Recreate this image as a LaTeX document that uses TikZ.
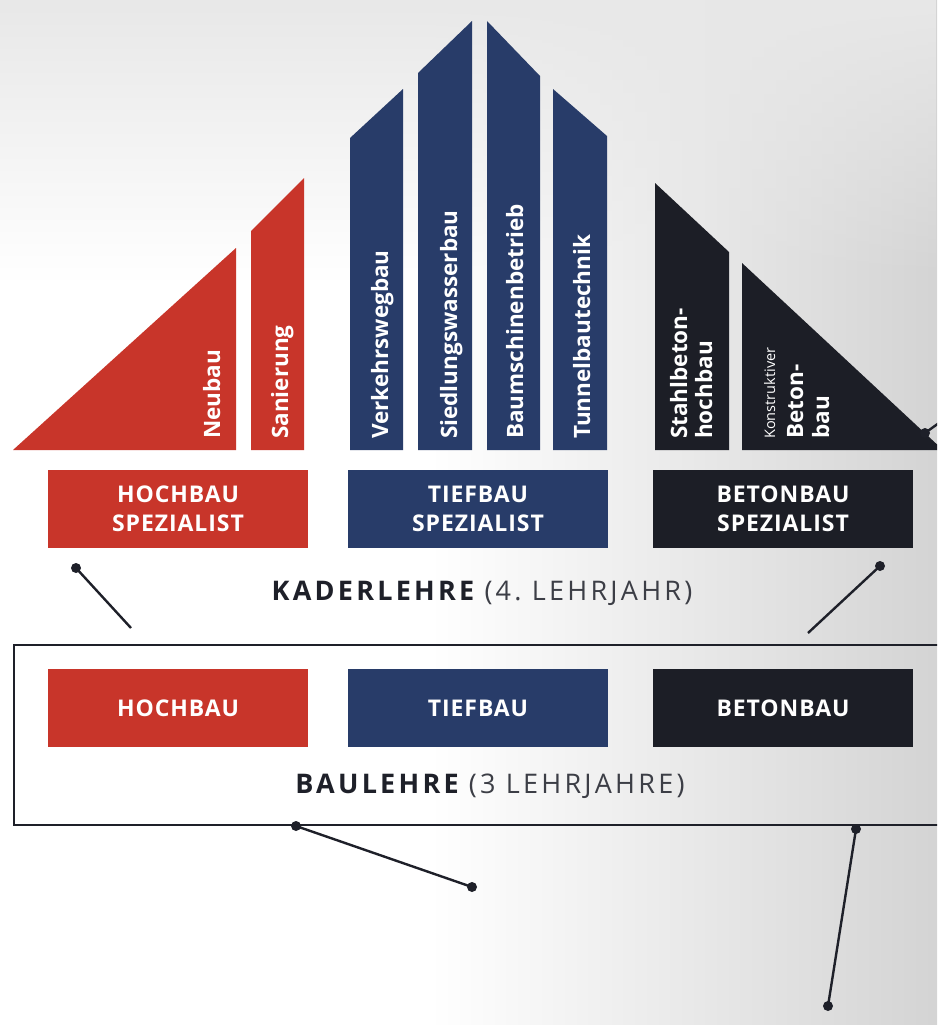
\documentclass[tikz,border=0pt]{standalone}
\usepackage{fontspec}
\usetikzlibrary{fadings}
\setmainfont{Open Sans}
\newfontfamily\headfont[LetterSpace=12]{Open Sans}
\newfontfamily\boxfont[LetterSpace=4]{Open Sans}
\definecolor{hred}{HTML}{C8352A}
\definecolor{tblue}{HTML}{283C69}
\definecolor{bblack}{HTML}{1C1E26}
\definecolor{ink}{HTML}{1E2029}
\definecolor{lightink}{HTML}{3C3E46}
\tikzset{
  vlabel/.style={rotate=90, anchor=base west, inner sep=0pt, text=white,
    font=\fontsize{22.5}{26}\selectfont\bfseries},
  smalllabel/.style={vlabel, font=\fontsize{14.5}{16}\selectfont},
  box/.style={minimum width=260pt, minimum height=78pt, inner sep=0pt,
    align=center, text=white, font=\boxfont\fontsize{23}{29}\selectfont\bfseries},
  heading/.style={anchor=base, inner sep=0pt, text=ink,
    font=\headfont\fontsize{27}{30}\selectfont},
  dot/.style={circle, fill=ink, inner sep=0pt, minimum size=10pt},
  conn/.style={draw=ink, line width=2.4pt},
  frame/.style={draw=ink, line width=2.6pt}
}
\begin{document}
\begin{tikzpicture}[x=1pt,y=-1pt]
\useasboundingbox (0,0) rectangle (937,1025);
\clip (0,0) rectangle (937,1025);
% background
\fill[white] (0,0) rectangle (937,1025);
\shade[left color=white, right color=gray!34] (430,0) rectangle (937,1025);
\fill[gray!18, path fading=south] (0,0) rectangle (937,280);

% red (Hochbau) columns
\fill[hred] (13,450) -- (236,248) -- (236,450) -- cycle;
\fill[hred] (251,450) -- (251,231) -- (304,178) -- (304,450) -- cycle;
% blue (Tiefbau) columns
\fill[tblue] (350,450) -- (350,138) -- (403,89) -- (403,450) -- cycle;
\fill[tblue] (418,450) -- (418,73) -- (472,21) -- (472,450) -- cycle;
\fill[tblue] (487,450) -- (487,21) -- (540,76) -- (540,450) -- cycle;
\fill[tblue] (553,450) -- (553,89) -- (607,136) -- (607,450) -- cycle;
% black (Betonbau) columns
\fill[bblack] (655,450) -- (655,183) -- (729,252) -- (729,450) -- cycle;
\fill[bblack] (742,450) -- (742,263) -- (943,450) -- cycle;

% column labels
\node[vlabel] (neubau) at (220,439) {Neubau};
\node[vlabel] (sanierung) at (288,439) {Sanierung};
\node[vlabel] (verkehr) at (388,439) {Verkehrswegbau};
\node[vlabel] (siedlung) at (457,439) {Siedlungswasserbau};
\node[vlabel] (baum) at (523,439) {Baumschinenbetrieb};
\node[vlabel] (tunnel) at (590,439) {Tunnelbautechnik};
\node[vlabel] (stahl1) at (687,439) {Stahlbeton-};
\node[vlabel] (stahl2) at (712,439) {hochbau};
\node[smalllabel] (konst) at (775,439) {Konstruktiver};
\node[vlabel] (beton1) at (803,439) {Beton-};
\node[vlabel] (beton2) at (829,439) {bau};

% specialist boxes
\node[box, fill=hred] (hs) at (178,509) {HOCHBAU\\SPEZIALIST};
\node[box, fill=tblue] (ts) at (478,509) {TIEFBAU\\SPEZIALIST};
\node[box, fill=bblack] (bs) at (783,509) {BETONBAU\\SPEZIALIST};

\node[heading] (kader) at (482,600) {\bfseries KADERLEHRE \mdseries\color{lightink}(4.~LEHRJAHR)};

% Baulehre frame
\draw[frame] (14,645) rectangle (980,825);
\node[box, fill=hred] (h) at (178,708) {HOCHBAU};
\node[box, fill=tblue] (t) at (478,708) {TIEFBAU};
\node[box, fill=bblack] (b) at (783,708) {BETONBAU};
\node[heading] (bau) at (490,793) {\bfseries BAULEHRE \mdseries\color{lightink}(3 LEHRJAHRE)};

% connectors
\node[dot] (d1) at (76,568) {};
\coordinate (e1) at (131,628);
\draw[conn] (d1.center) -- (e1);
\node[dot] (d2) at (880,566) {};
\coordinate (e2) at (808,633);
\draw[conn] (d2.center) -- (e2);
\node[dot] (d3) at (296,826) {};
\node[dot] (d4) at (472,887) {};
\draw[conn] (d3.center) -- (d4.center);
\node[dot] (d5) at (856,829) {};
\node[dot] (d6) at (828,1006) {};
\draw[conn] (d5.center) -- (d6.center);
\node[dot] (d7) at (925,433) {};
\coordinate (e7) at (950,415);
\draw[conn] (d7.center) -- (e7);
\end{tikzpicture}
\end{document}
